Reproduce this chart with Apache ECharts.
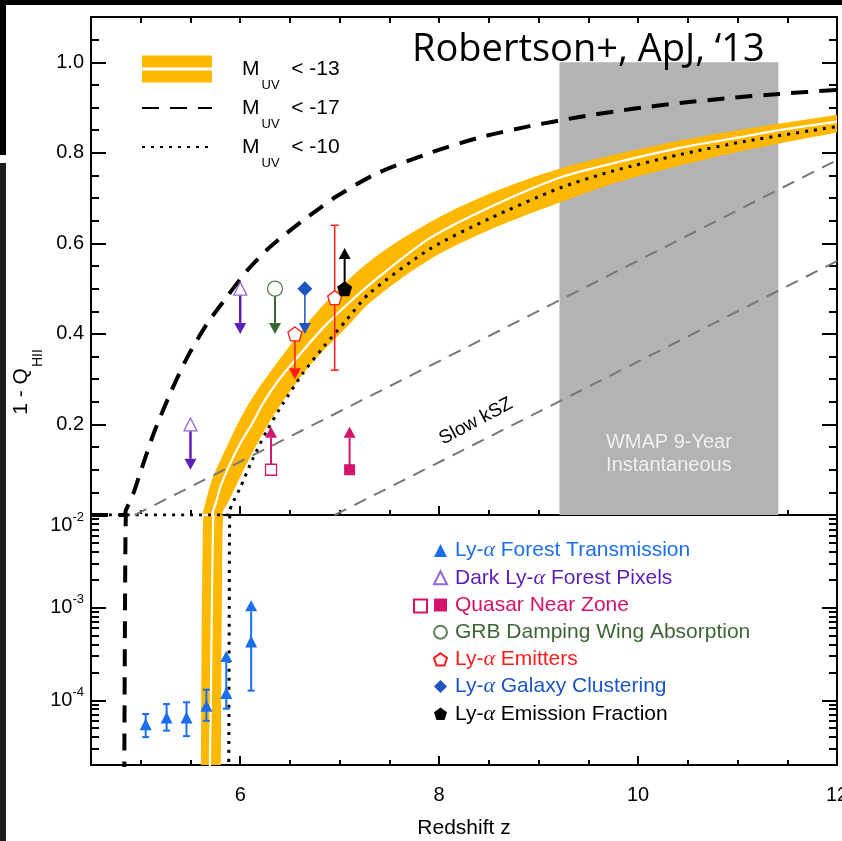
<!DOCTYPE html>
<html><head><meta charset="utf-8">
<script src="https://cdn.jsdelivr.net/npm/echarts@6/dist/echarts.min.js"></script>
<style>html,body{margin:0;padding:0;background:#fff}#c{width:842px;height:841px}</style>
</head><body><div id="c"></div>
<script>
// ---------------- data ----------------
const xTickLabels = [6, 8, 10, 12];
const yLinTickLabels = [0.2, 0.4, 0.6, 0.8, 1.0];
const yLinMajorTicks = [0, 0.2, 0.4, 0.6, 0.8, 1.0];
const yLogTickLabels = [1e-4, 1e-3, 1e-2];
const yLogMinorTicks = [2e-5,3e-5,4e-5,5e-5,6e-5,7e-5,8e-5,9e-5,2e-4,3e-4,4e-4,5e-4,6e-4,7e-4,8e-4,9e-4,2e-3,3e-3,4e-3,5e-3,6e-3,7e-3,8e-3,9e-3];

// M_UV < -13 : shaded range (edges) and median
const bandUpperEdge = [[5.60,1e-6],[5.605,2e-5],[5.615,1e-3],[5.63,1e-2],[5.66,0.035],[5.72,0.08],[5.82,0.13],[6.07,0.24],[6.40,0.345],[6.80,0.455],[7.30,0.56],[7.91,0.647],[8.51,0.71],[9.21,0.765],[9.75,0.795],[10.42,0.827],[11.09,0.853],[12.0,0.884]];
const bandLowerEdge = [[5.80,1e-6],[5.805,2e-5],[5.815,1e-3],[5.83,1e-2],[5.87,0.025],[6.07,0.115],[6.32,0.215],[6.70,0.33],[7.10,0.422],[7.30,0.468],[7.91,0.565],[8.51,0.63],[9.21,0.69],[9.75,0.732],[10.42,0.772],[11.09,0.806],[12.0,0.845]];
const bandMedian = [[4.5,1e-6],[5.69,1e-6],[5.695,2e-5],[5.705,1e-4],[5.715,1e-3],[5.73,1e-2],[5.76,0.03],[5.80,0.062],[5.90,0.114],[6.00,0.158],[6.12,0.202],[6.23,0.247],[6.40,0.302],[6.60,0.355],[6.84,0.415],[7.10,0.47],[7.40,0.527],[7.91,0.612],[8.51,0.68],[9.21,0.745],[9.75,0.777],[10.42,0.811],[11.09,0.837],[11.42,0.85],[12.0,0.869]];
// M_UV < -17 (dashed)
const curveMuv17 = [[4.5,1e-6],[4.83,1e-6],[4.835,2e-5],[4.842,1e-3],[4.85,1e-2],[4.87,0.02],[4.93,0.05],[4.99,0.09],[5.13,0.18],[5.30,0.27],[5.46,0.345],[5.66,0.42],[5.87,0.483],[6.07,0.54],[6.27,0.586],[6.47,0.623],[6.70,0.662],[6.97,0.704],[7.37,0.754],[7.91,0.80],[8.41,0.834],[8.91,0.859],[9.41,0.879],[9.91,0.896],[10.42,0.91],[10.92,0.921],[11.42,0.93],[12.0,0.939]];
// M_UV < -10 (dotted)
const curveMuv10 = [[4.5,1e-6],[5.88,1e-6],[5.885,2e-5],[5.89,1e-3],[5.895,1e-2],[5.92,0.025],[6.0,0.06],[6.12,0.121],[6.27,0.187],[6.43,0.246],[6.63,0.313],[6.84,0.372],[7.07,0.431],[7.30,0.49],[7.91,0.588],[8.51,0.655],[9.21,0.722],[9.75,0.76],[10.42,0.796],[11.09,0.826],[12.0,0.858]];
// slow kSZ lines
const kszHigh = [[4.94,0],[12.0,0.784]];
const kszLow = [[6.95,0],[12.0,0.561]];
const kszLabelAt = [8.37, 0.207];
// WMAP 9-year instantaneous
const wmapZ = [9.21, 11.41];
const wmapTop = 1.0;

// constraints in the upper panel: [z, value, limit end]
const darkPixels = [[5.5,0.2,0.1],[6.0,0.5,0.4]];
const quasarOpen = [[6.31,0.1,0.195]];
const quasarFilled = [[7.1,0.1,0.195]];
const grbDamping = [[6.35,0.5,0.4]];
const lyaEmittersLimit = [[6.55,0.4,0.3]];
const lyaEmittersErr = [[6.95,0.48,0.32,0.64]]; // z, value, low, high
const lyaClustering = [[6.65,0.5,0.4]];
const lyaFraction = [[7.05,0.5,0.59]];
// Ly-a forest transmission (lower panel): z, value, low, high, high-is-arrow
const forest = [[5.05,5.5e-5,4.0e-5,7.1e-5,0],[5.26,6.5e-5,4.7e-5,9.1e-5,0],[5.46,6.5e-5,4.1e-5,9.5e-5,0],[5.66,8.7e-5,6.0e-5,1.3e-4,0],[5.86,1.2e-4,8.1e-5,3.4e-4,1],[6.11,4.3e-4,1.27e-4,1.2e-3,1]];

// ---------------- styling ----------------
const FONT = '"Liberation Sans", Arial, Helvetica, sans-serif';
const ORANGE = '#FFB800';
const C_FOREST = '#1A6EF0', C_DARK = '#5E1DB5', C_DARK_OPEN = '#9467D4', C_QSO = '#D4136C',
      C_GRB = '#3E6634', C_GRB_OPEN = '#5E7F55', C_LAE = '#FF1A1A', C_CLUS = '#1D55C4', C_FRAC = '#000';
const PENTAGON = 'path://M10,0L19.51,6.91L15.88,18.09L4.12,18.09L0.49,6.91Z';

// rendering helpers: centripetal Catmull-Rom through pixel points, polygon clipping
function smoothPath(pts, n) {
  if (pts.length < 3) return pts.slice();
  const P = [[2*pts[0][0]-pts[1][0], 2*pts[0][1]-pts[1][1]]].concat(pts,
    [[2*pts[pts.length-1][0]-pts[pts.length-2][0], 2*pts[pts.length-1][1]-pts[pts.length-2][1]]]);
  const d = (a, b) => Math.pow(Math.hypot(b[0]-a[0], b[1]-a[1]) + 1e-6, 0.5);
  const lerp = (a, b, ta, tb, t) => [ (tb-t)/(tb-ta)*a[0] + (t-ta)/(tb-ta)*b[0], (tb-t)/(tb-ta)*a[1] + (t-ta)/(tb-ta)*b[1] ];
  const out = [];
  for (let i = 1; i < P.length - 2; i++) {
    const p0 = P[i-1], p1 = P[i], p2 = P[i+1], p3 = P[i+2];
    const t0 = 0, t1 = t0 + d(p0, p1), t2 = t1 + d(p1, p2), t3 = t2 + d(p2, p3);
    for (let k = 0; k < n; k++) {
      const t = t1 + (t2 - t1) * k / n;
      const A1 = lerp(p0, p1, t0, t1, t), A2 = lerp(p1, p2, t1, t2, t), A3 = lerp(p2, p3, t2, t3, t);
      const B1 = lerp(A1, A2, t0, t2, t), B2 = lerp(A2, A3, t1, t3, t);
      out.push(lerp(B1, B2, t1, t2, t));
    }
  }
  out.push(pts[pts.length-1]);
  return out;
}
function clipPoly(pts, x0, y0, x1, y1) {
  const tests = [
    [p => p[0] >= x0, (a,b) => { const t=(x0-a[0])/(b[0]-a[0]); return [x0, a[1]+t*(b[1]-a[1])]; }],
    [p => p[0] <= x1, (a,b) => { const t=(x1-a[0])/(b[0]-a[0]); return [x1, a[1]+t*(b[1]-a[1])]; }],
    [p => p[1] >= y0, (a,b) => { const t=(y0-a[1])/(b[1]-a[1]); return [a[0]+t*(b[0]-a[0]), y0]; }],
    [p => p[1] <= y1, (a,b) => { const t=(y1-a[1])/(b[1]-a[1]); return [a[0]+t*(b[0]-a[0]), y1]; }]
  ];
  let out = pts;
  for (const [inside, inter] of tests) {
    const inp = out; out = [];
    for (let i = 0; i < inp.length; i++) {
      const cur = inp[i], prev = inp[(i + inp.length - 1) % inp.length];
      const ci = inside(cur), pi = inside(prev);
      if (ci) { if (!pi) out.push(inter(prev, cur)); out.push(cur); }
      else if (pi) out.push(inter(prev, cur));
    }
    if (!out.length) break;
  }
  return out;
}

function bandSeries(xi, yi, dummy) {
  return {
    type: 'custom', name: 'Muv13', xAxisIndex: xi, yAxisIndex: yi, z: 2, silent: true,
    itemStyle: { color: ORANGE },
    data: [dummy],
    renderItem(params, api) {
      const up = smoothPath(bandUpperEdge.map(d => api.coord(d)), 12);
      const lo = smoothPath(bandLowerEdge.map(d => api.coord(d)), 12);
      const pts = up.concat(lo.reverse());
      const cs = params.coordSys;
      const poly = clipPoly(pts, cs.x, cs.y, cs.x + cs.width, cs.y + cs.height);
      return { type: 'polygon', shape: { points: poly }, style: { fill: ORANGE } };
    }
  };
}
function curveSeries(name, data, xi, yi, lineStyle, z) {
  return { type: 'line', name, xAxisIndex: xi, yAxisIndex: yi, data, symbol: 'none', smooth: 0.25,
    clip: true, z, silent: true, lineStyle, itemStyle: { color: lineStyle.color, opacity: 0 } };
}
function arrowSeries(arr, color, width) {
  return {
    type: 'custom', xAxisIndex: 0, yAxisIndex: 0, z: 4, silent: true, data: arr,
    renderItem(params, api) {
      const z = api.value(0);
      const a = api.coord([z, api.value(1)]);
      const b = api.coord([z, api.value(2)]);
      const dir = b[1] > a[1] ? 1 : -1;
      const h = 11, w = 6;
      const by = b[1] - dir * h;
      return { type: 'group', children: [
        { type: 'line', shape: { x1: a[0], y1: a[1], x2: b[0], y2: by }, style: { stroke: color, lineWidth: width } },
        { type: 'polygon', shape: { points: [[b[0]-w, by], [b[0]+w, by], [b[0], b[1]]] }, style: { fill: color } }
      ]};
    }
  };
}
function errSeries(arr, color, width, capW, xi, yi, z) {
  return {
    type: 'custom', xAxisIndex: xi, yAxisIndex: yi, z, silent: true, data: arr,
    renderItem(params, api) {
      const zz = api.value(0);
      const lo = api.coord([zz, api.value(2)]);
      const hi = api.coord([zz, api.value(3)]);
      const isArrow = api.value(4) > 0;
      const ch = [];
      const topY = isArrow ? hi[1] + 11 : hi[1];
      ch.push({ type: 'line', shape: { x1: lo[0], y1: lo[1], x2: hi[0], y2: topY }, style: { stroke: color, lineWidth: width } });
      ch.push({ type: 'line', shape: { x1: lo[0]-capW, y1: lo[1], x2: lo[0]+capW, y2: lo[1] }, style: { stroke: color, lineWidth: width } });
      if (isArrow) {
        ch.push({ type: 'polygon', shape: { points: [[hi[0]-6, hi[1]+11], [hi[0]+6, hi[1]+11], [hi[0], hi[1]]] }, style: { fill: color } });
      } else {
        ch.push({ type: 'line', shape: { x1: hi[0]-capW, y1: hi[1], x2: hi[0]+capW, y2: hi[1] }, style: { stroke: color, lineWidth: width } });
      }
      return { type: 'group', children: ch };
    }
  };
}
function markerSeries(name, data, symbol, size, fill, border, xi, yi) {
  return { type: 'scatter', name, xAxisIndex: xi, yAxisIndex: yi, z: 5, silent: true, data,
    symbol, symbolSize: size,
    itemStyle: { color: fill, borderColor: border || fill, borderWidth: border ? 1.3 : 0, opacity: 1 } };
}

// ---------------- axes ----------------
const BLACK_LINE = { show: true, onZero: false, lineStyle: { color: '#000', width: 2 } };
const NO_LINE = { show: false, onZero: false };
function tick(len, opt) { return Object.assign({ show: true, inside: true, length: len, lineStyle: { color: '#000', width: 2 } }, opt || {}); }
function xAxisDef(grid, pos, line, tk, extra) {
  return Object.assign({ type: 'value', gridIndex: grid, position: pos, min: 4.5, max: 12,
    axisLine: line, axisTick: tk, axisLabel: { show: false }, splitLine: { show: false } }, extra || {});
}
function yLinDef(pos, line, tk, extra) {
  return Object.assign({ type: 'value', gridIndex: 0, position: pos, min: 0, max: 1.1,
    axisLine: line, axisTick: tk, axisLabel: { show: false }, splitLine: { show: false } }, extra || {});
}
function yLogDef(pos, line, tk, extra) {
  return Object.assign({ type: 'log', logBase: 10, gridIndex: 1, position: pos, min: 2e-5, max: 1e-2,
    axisLine: line, axisTick: tk, axisLabel: { show: false }, splitLine: { show: false } }, extra || {});
}
const tickLabelStyle = { color: '#000', fontSize: 20, fontFamily: FONT };

const xAxes = [
  xAxisDef(0, 'bottom', BLACK_LINE, tick(9, { customValues: xTickLabels })),                  // 0
  xAxisDef(0, 'bottom', NO_LINE, tick(5), { interval: 0.5 }),                                 // 1
  xAxisDef(0, 'top', BLACK_LINE, tick(6), { interval: 0.5 }),                                 // 2
  xAxisDef(1, 'bottom', BLACK_LINE, tick(9, { customValues: xTickLabels }), {                 // 3
    axisLabel: Object.assign({ show: true, customValues: xTickLabels, margin: 20 }, tickLabelStyle),
    name: 'Redshift z', nameLocation: 'middle', nameGap: 53,
    nameTextStyle: { color: '#000', fontSize: 21, fontFamily: FONT } }),
  xAxisDef(1, 'bottom', NO_LINE, tick(5), { interval: 0.5 })                                  // 4
];
const yAxes = [
  yLinDef('left', BLACK_LINE, tick(15, { customValues: yLinMajorTicks }), {                   // 0
    axisLabel: Object.assign({ show: true, customValues: yLinTickLabels, margin: 7,
      formatter: v => v.toFixed(1) }, tickLabelStyle),
    name: '{q|1 - Q}{s|HII}', nameLocation: 'middle', nameGap: 58,
    nameTextStyle: { color: '#000', fontFamily: FONT, fontSize: 21, padding: [0, 232, 0, 0],
      rich: { q: { fontSize: 21, lineHeight: 24, fontFamily: FONT },
              s: { fontSize: 14, lineHeight: 24, padding: [34, 0, 0, 1], fontFamily: FONT } } } }),
  yLinDef('left', NO_LINE, tick(8), { interval: 0.05 }),                                       // 1
  yLinDef('right', BLACK_LINE, tick(15, { customValues: yLinMajorTicks })),                   // 2
  yLinDef('right', NO_LINE, tick(8), { interval: 0.05 }),                                      // 3
  yLogDef('left', BLACK_LINE, tick(15, { customValues: yLogTickLabels }), {                   // 4
    axisLabel: Object.assign({ show: true, customValues: yLogTickLabels, margin: 7,
      formatter: v => { const e = Math.round(Math.log10(v)); const s = '{b|10}{s|' + e + '}';
        return e === -2 ? '{g|}\n' + s : s; },
      rich: { b: { fontSize: 20, lineHeight: 22, fontFamily: FONT, color: '#000' },
              s: { fontSize: 13, lineHeight: 22, padding: [0, 0, 16, 0], fontFamily: FONT, color: '#000' },
              g: { lineHeight: 20, fontSize: 10 } } }, tickLabelStyle) }),
  yLogDef('left', NO_LINE, tick(8, { customValues: yLogMinorTicks })),                        // 5
  yLogDef('right', BLACK_LINE, tick(15, { customValues: yLogTickLabels })),                   // 6
  yLogDef('right', NO_LINE, tick(8, { customValues: yLogMinorTicks }))                        // 7
];

// ---------------- series ----------------
const dashStyle = { color: '#000', width: 4, type: [17, 11], cap: 'butt' };
const dotStyle = { color: '#000', width: 3, type: [3, 6], cap: 'butt' };
const medianStyle = { color: '#fff', width: 2.2 };
const kszStyle = { color: '#777', width: 2, type: [13, 9] };

const series = [
  { type: 'line', xAxisIndex: 0, yAxisIndex: 0, data: [], z: 1, silent: true,
    markArea: { silent: true, itemStyle: { color: '#B3B3B3' },
      label: { show: true, position: 'insideBottom', distance: 38, formatter: 'WMAP 9-Year\nInstantaneous',
        color: '#EFEFEF', fontSize: 20, lineHeight: 23, fontFamily: FONT },
      data: [[{ coord: [wmapZ[0], 0] }, { coord: [wmapZ[1], wmapTop] }]] } },
  bandSeries(0, 0, [8, 0.5]),
  bandSeries(3, 4, [8, 1e-3]),
  curveSeries('median', bandMedian, 0, 0, medianStyle, 3),
  curveSeries('median', bandMedian, 3, 4, medianStyle, 3),
  curveSeries('Muv10', curveMuv10, 0, 0, dotStyle, 3),
  curveSeries('Muv10', curveMuv10, 3, 4, dotStyle, 3),
  curveSeries('Muv17', curveMuv17, 0, 0, dashStyle, 3),
  curveSeries('Muv17', curveMuv17, 3, 4, dashStyle, 3),
  Object.assign(curveSeries('kszHigh', kszHigh, 0, 0, kszStyle, 3), { smooth: false }),
  Object.assign(curveSeries('kszLow', kszLow, 0, 0, kszStyle, 3), { smooth: false,
    markPoint: { silent: true, symbol: 'circle', symbolSize: 1, itemStyle: { color: 'rgba(0,0,0,0)' },
      label: { show: true, position: 'inside', formatter: 'Slow kSZ', rotate: 28, color: '#000',
        fontSize: 19, fontFamily: FONT },
      data: [{ coord: kszLabelAt }] } }),
  // arrows / error bars (upper panel)
  arrowSeries(darkPixels, C_DARK, 2.5),
  arrowSeries(grbDamping, C_GRB, 2),
  arrowSeries(lyaClustering, C_CLUS, 1.5),
  arrowSeries(lyaEmittersLimit, C_LAE, 1.5),
  arrowSeries(lyaFraction, C_FRAC, 2),
  arrowSeries(quasarOpen, C_QSO, 2),
  arrowSeries(quasarFilled, C_QSO, 2),
  errSeries(lyaEmittersErr.map(d => [d[0], d[1], d[2], d[3], 0]), C_LAE, 1.5, 4, 0, 0, 4),
  // markers (upper panel)
  markerSeries('Dark Ly-α Forest Pixels', darkPixels.map(d => [d[0], d[1]]), 'triangle', 13, '#fff', C_DARK_OPEN, 0, 0),
  markerSeries('Quasar Near Zone', quasarFilled.map(d => [d[0], d[1]]), 'rect', 11, C_QSO, null, 0, 0),
  markerSeries('Quasar Near Zone (open)', quasarOpen.map(d => [d[0], d[1]]), 'rect', 11, '#fff', C_QSO, 0, 0),
  markerSeries('GRB Damping Wing Absorption', grbDamping.map(d => [d[0], d[1]]), 'circle', 15, '#fff', C_GRB_OPEN, 0, 0),
  markerSeries('Ly-α Emitters', lyaEmittersLimit.map(d => [d[0], d[1]]).concat(lyaEmittersErr.map(d => [d[0], d[1]])), PENTAGON, 14, '#fff', C_LAE, 0, 0),
  markerSeries('Ly-α Galaxy Clustering', lyaClustering.map(d => [d[0], d[1]]), 'diamond', 15, C_CLUS, null, 0, 0),
  markerSeries('Ly-α Emission Fraction', lyaFraction.map(d => [d[0], d[1]]), PENTAGON, 15, C_FRAC, null, 0, 0),
  // lower panel forest
  errSeries(forest, C_FOREST, 2, 3.5, 3, 4, 4),
  markerSeries('Ly-α Forest Transmission', forest.map(d => [d[0], d[1]]), 'triangle', 12, C_FOREST, null, 3, 4)
];

const legendNames = [
  ['Ly-α Forest Transmission', C_FOREST],
  ['Dark Ly-α Forest Pixels', C_DARK],
  ['Quasar Near Zone', C_QSO],
  ['GRB Damping Wing Absorption', C_GRB],
  ['Ly-α Emitters', C_LAE],
  ['Ly-α Galaxy Clustering', C_CLUS],
  ['Ly-α Emission Fraction', C_FRAC]
];
const muvLabels = { Muv13: '-13', Muv17: '-17', Muv10: '-10' };
const HIDDEN_SYMBOL = { opacity: 0, color: 'rgba(0,0,0,0)', borderWidth: 0 };

const option = {
  animation: false,
  backgroundColor: '#fff',
  title: { text: 'Robertson+, ApJ, ‘13', left: 412, top: 31, padding: 0,
    textStyle: { fontFamily: '"Open Sans"', fontSize: 38, fontWeight: 'normal', color: '#000' } },
  grid: [
    { left: 91, right: 5, top: 17, height: 498, outerBoundsMode: 'none' },
    { left: 91, right: 5, top: 515, height: 250, outerBoundsMode: 'none' }
  ],
  xAxis: xAxes,
  yAxis: yAxes,
  legend: [
    { orient: 'vertical', left: 141, top: 46.5, padding: 0, itemWidth: 70, itemHeight: 27, itemGap: -6,
      selectedMode: false,
      data: [
        { name: 'Muv13', icon: 'path://M0,0H70V12H0ZM0,15H70V27H0Z', itemStyle: { color: ORANGE } },
        { name: 'Muv17', itemStyle: HIDDEN_SYMBOL }, { name: 'Muv10', itemStyle: HIDDEN_SYMBOL }
      ],
      formatter: n => '{m|M}{u|UV}{t|  < ' + muvLabels[n] + '}',
      textStyle: { color: '#000', fontFamily: FONT, fontSize: 21, lineHeight: 27, padding: [0, 0, 0, 25],
        rich: { m: { fontSize: 21, lineHeight: 27, fontFamily: FONT },
                u: { fontSize: 13, lineHeight: 27, padding: [32, 0, 0, 2], fontFamily: FONT },
                t: { fontSize: 21, lineHeight: 27, fontFamily: FONT } } } },
    { orient: 'vertical', left: 433, top: 537, padding: 0, itemWidth: 13, itemHeight: 13, itemGap: 0,
      selectedMode: false,
      data: legendNames.map(([n, c]) => ({ name: n, textStyle: { color: c } })),
      formatter: n => n.replace('α', '{a|α}'),
      textStyle: { fontFamily: FONT, fontSize: 21, lineHeight: 27.2, padding: [0, 0, 0, 3],
        rich: { a: { fontFamily: '"Liberation Serif", serif', fontStyle: 'italic', fontSize: 22, lineHeight: 27.2 } } } },
    { orient: 'vertical', left: 413, top: 598.5, padding: 0, itemWidth: 13, itemHeight: 13,
      selectedMode: false, data: ['Quasar Near Zone (open)'], formatter: () => '',
      textStyle: { fontSize: 1 } }
  ],
  graphic: [
    { type: 'rect', shape: { x: 0, y: 0, width: 842, height: 5 }, style: { fill: '#000' }, z: 100 },
    { type: 'rect', shape: { x: 0, y: 0, width: 6, height: 155 }, style: { fill: '#000' }, z: 100 },
    { type: 'rect', shape: { x: 0, y: 163, width: 6, height: 678 }, style: { fill: '#1c1c1c' }, z: 100 }
  ],
  series
};

const chart = echarts.init(document.getElementById('c'), null, { renderer: 'canvas' });
chart.setOption(option);
</script>
</body></html>
